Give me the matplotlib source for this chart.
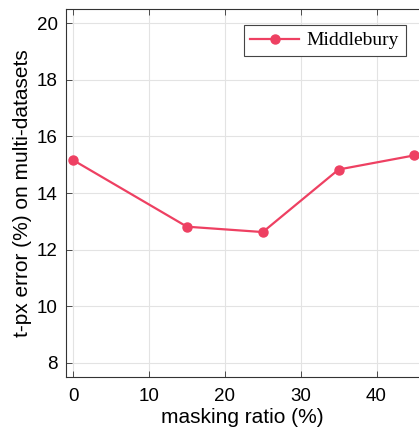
import matplotlib
matplotlib.use("Agg")
import matplotlib.pyplot as plt

# masking ratio vs error
ratio = [0, 15, 25, 35, 45]
error = [15.16, 12.81, 12.62, 14.83, 15.33]
xticks = [0, 10, 20, 30, 40]
yticks = [8, 10, 12, 14, 16, 18, 20]
color = '#EE4062'

plt.rcParams['font.family'] = ['Liberation Sans', 'DejaVu Sans']

fig = plt.figure(figsize=(4.19, 4.34), dpi=100)
ax = fig.add_axes([66 / 419, 57 / 434, 1 - 66 / 419, 368 / 434])

ax.plot(ratio, error, '-o', color=color, lw=1.6, ms=6.5, label='Middlebury')

ax.set_xlim(-0.95, 45.6)
ax.set_ylim(7.5, 20.5)
ax.set_xticks(xticks)
ax.set_yticks(yticks)
ax.tick_params(direction='in', top=True, right=False, labelsize=13.5, length=4,
               width=0.6, color='#333333')
ax.tick_params(axis='x', pad=8)
ax.tick_params(axis='y', pad=6)
ax.grid(True, color='#e3e3e3', lw=0.8)
ax.set_axisbelow(True)
for s in ax.spines.values():
    s.set_color('#333333')
    s.set_linewidth(0.8)
ax.spines['right'].set_visible(False)  # picture is cropped on the right

ax.set_xlabel('masking ratio (%)', fontsize=15, labelpad=2)
ax.set_ylabel('t-px error (%) on multi-datasets', fontsize=15, labelpad=3)

leg = ax.legend(loc='upper right', bbox_to_anchor=(406 / 419, 1 - 25 / 434),
                bbox_transform=fig.transFigure, borderaxespad=0,
                prop={'family': 'Liberation Serif', 'size': 14},
                fancybox=False, edgecolor='#444444', handlelength=2.5,
                handletextpad=0.4, borderpad=0.35, framealpha=1)
leg.get_frame().set_linewidth(0.8)

fig.savefig('out.png', dpi=100)
